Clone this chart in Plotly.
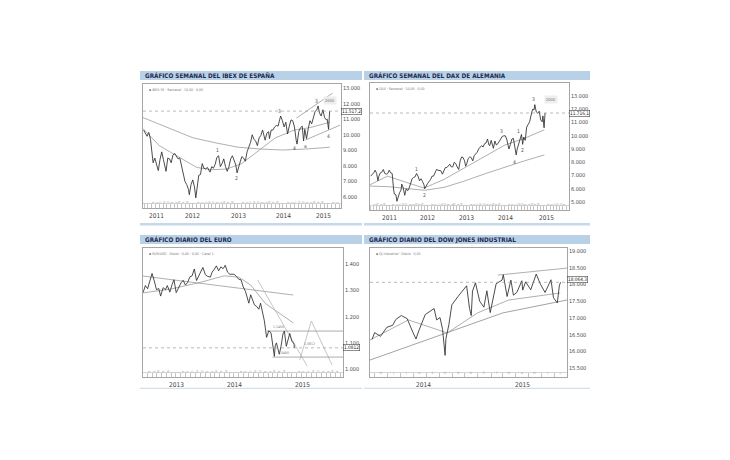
import datetime as dt
import plotly.graph_objects as go

# ---------------- DATA ----------------
# IBEX 35 weekly (approx. closes / swing points)
ibex_dates = ["2011-05-27","2011-06-10","2011-06-24","2011-07-08","2011-07-22","2011-08-05","2011-08-12","2011-08-26",
 "2011-09-09","2011-09-23","2011-10-07","2011-10-21","2011-11-04","2011-11-18","2011-11-25","2011-12-09","2011-12-23",
 "2012-01-06","2012-01-20","2012-02-03","2012-02-17","2012-03-02","2012-03-16","2012-03-30","2012-04-13","2012-04-27",
 "2012-05-11","2012-05-25","2012-06-01","2012-06-15","2012-06-29","2012-07-13","2012-07-24","2012-08-03","2012-08-17",
 "2012-08-31","2012-09-14","2012-09-28","2012-10-12","2012-10-26","2012-11-09","2012-11-16","2012-11-30","2012-12-14",
 "2012-12-28","2013-01-11","2013-01-25","2013-02-08","2013-02-22","2013-03-08","2013-03-22","2013-04-05","2013-04-19",
 "2013-05-03","2013-05-17","2013-05-31","2013-06-14","2013-06-24","2013-07-05","2013-07-19","2013-08-02","2013-08-16",
 "2013-08-30","2013-09-13","2013-09-27","2013-10-11","2013-10-25","2013-11-08","2013-11-22","2013-12-06","2013-12-20",
 "2014-01-03","2014-01-17","2014-01-31","2014-02-07","2014-02-21","2014-03-07","2014-03-14","2014-03-28","2014-04-11",
 "2014-04-25","2014-05-09","2014-05-23","2014-06-06","2014-06-13","2014-06-27","2014-07-11","2014-07-25","2014-08-08",
 "2014-08-22","2014-09-05","2014-09-19","2014-10-03","2014-10-17","2014-10-24","2014-11-07","2014-11-21","2014-12-05",
 "2014-12-12","2014-12-16","2014-12-26","2015-01-09","2015-01-23","2015-02-06","2015-02-20","2015-03-06","2015-03-20",
 "2015-04-03","2015-04-13","2015-04-24","2015-05-08","2015-05-22","2015-06-05","2015-06-19","2015-06-26","2015-07-07",
 "2015-07-16"]
ibex_close = [10300,10050,9900,10150,9700,8700,8200,8500,8100,7700,8400,8900,8400,7900,7650,8500,8450,
 8200,8700,8800,8650,8450,8500,8000,7350,7000,6800,6500,6150,6800,7100,6650,5950,6700,7400,
 7450,8150,7850,7800,7900,7750,7600,7950,7850,8100,8550,8650,7950,8150,8450,7950,7650,7950,
 8450,8650,8300,8050,7550,7800,8250,8600,8500,8300,8900,9200,9500,10000,9700,9600,9300,9800,
 9950,10300,9900,9650,10100,10200,9750,10300,10300,10500,10600,10550,11000,11200,10900,10500,10800,10050,
 10550,10950,10900,10500,9650,9400,10200,10450,10550,10050,9600,10350,9750,10400,10900,10700,11200,11500,
 11600,11850,11400,11200,11600,11100,10950,11000,10350,11517.2]
ibex_ma_slow_dates = ["2011-05-22","2011-12-01","2012-07-01","2013-01-01","2013-07-01","2014-01-01","2014-07-01","2015-01-01","2015-07-17"]
ibex_ma_slow = [11100,10500,9800,9480,9200,9080,9020,9080,9200]
ibex_ma_fast_dates = ["2011-05-22","2011-10-01","2012-03-01","2012-08-01","2012-12-01","2013-04-01","2013-08-01","2013-12-01","2014-05-01","2014-10-01","2015-02-01","2015-07-17"]
ibex_ma_fast = [10400,9300,8600,7900,7750,7800,8150,8900,9800,10300,10450,10800]
ibex_trend_up_dates = ["2014-10-20","2015-08-10"]
ibex_trend_up = [11070,12680]
ibex_trend_lo_dates = ["2014-12-31","2015-10-10"]
ibex_trend_lo = [9660,10620]
ibex_wave_dates = ["2013-01-20","2013-06-20","2014-06-01","2014-10-01","2014-12-31","2015-03-28","2015-07-05"]
ibex_wave_vals = [9000,7200,11550,9150,9300,12150,9900]
ibex_wave_text = ["1","2","3","4","a","3","4"]

# DAX weekly
dax_dates = ["2011-01-07","2011-01-21","2011-02-04","2011-02-18","2011-03-04","2011-03-16","2011-03-25","2011-04-08",
 "2011-04-22","2011-05-06","2011-05-20","2011-06-03","2011-06-17","2011-07-01","2011-07-15","2011-07-29","2011-08-05",
 "2011-08-12","2011-08-19","2011-09-02","2011-09-12","2011-09-23","2011-10-07","2011-10-21","2011-10-28","2011-11-11",
 "2011-11-25","2011-12-09","2011-12-23","2012-01-06","2012-01-20","2012-02-03","2012-02-17","2012-03-02","2012-03-16",
 "2012-03-30","2012-04-13","2012-04-27","2012-05-11","2012-05-25","2012-06-01","2012-06-15","2012-06-29","2012-07-13",
 "2012-07-27","2012-08-10","2012-08-24","2012-09-07","2012-09-21","2012-10-05","2012-10-19","2012-11-02","2012-11-16",
 "2012-11-30","2012-12-14","2012-12-28","2013-01-11","2013-01-25","2013-02-08","2013-02-22","2013-03-08","2013-03-22",
 "2013-04-05","2013-04-19","2013-05-03","2013-05-17","2013-05-31","2013-06-14","2013-06-24","2013-07-05","2013-07-19",
 "2013-08-02","2013-08-16","2013-08-30","2013-09-13","2013-09-27","2013-10-11","2013-10-25","2013-11-08","2013-11-22",
 "2013-12-06","2013-12-20","2014-01-03","2014-01-17","2014-01-31","2014-02-07","2014-02-21","2014-03-07","2014-03-14",
 "2014-03-28","2014-04-11","2014-04-25","2014-05-09","2014-05-23","2014-06-06","2014-06-20","2014-07-04","2014-07-18",
 "2014-08-01","2014-08-08","2014-08-22","2014-09-05","2014-09-19","2014-10-03","2014-10-16","2014-10-24","2014-11-07",
 "2014-11-21","2014-12-05","2014-12-16","2014-12-26","2015-01-09","2015-01-23","2015-02-06","2015-02-20","2015-03-06",
 "2015-03-20","2015-04-03","2015-04-10","2015-04-24","2015-05-08","2015-05-22","2015-06-05","2015-06-19","2015-06-26",
 "2015-07-07","2015-07-16"]
dax_close = [6950,7050,7200,7400,7150,6600,6950,7200,7250,7450,7150,7100,7150,7400,7200,7150,6250,
 5900,5600,5550,5050,5450,5700,5900,6350,6050,5500,6000,5850,6050,6400,6750,6850,6900,7150,
 6950,6600,6750,6550,6300,6000,6250,6400,6550,6700,6950,6950,7200,7450,7400,7400,7350,7100,
 7400,7600,7600,7700,7850,7650,7650,8000,7900,7650,7450,8100,8400,8350,8100,7700,7900,8300,
 8400,8350,8100,8500,8650,8750,9000,9100,9250,9150,9400,9450,9750,9300,9250,9650,9350,9050,
 9600,9300,9400,9600,9750,9950,9990,10000,9750,9200,9000,9350,9750,9800,9200,8550,8950,9300,
 9700,10100,9350,9900,9650,10650,10850,11050,11550,12000,11950,12350,11800,11700,11850,11200,11050,11500,
 10600,11716.1]
dax_ma_slow_dates = ["2011-01-01","2011-07-01","2012-01-01","2012-06-01","2012-12-01","2013-06-01","2014-01-01","2014-07-01","2015-01-01","2015-07-10"]
dax_ma_slow = [6200,6150,6000,5880,6100,6550,7150,7650,8100,8550]
dax_ma_fast_dates = ["2011-01-01","2011-06-15","2011-12-01","2012-05-25","2012-12-01","2013-06-01","2014-01-01","2014-07-01","2015-01-01","2015-07-10"]
dax_ma_fast = [6300,6950,6500,6050,6700,7500,8500,9300,9800,10450]
dax_wave_dates = ["2012-03-20","2012-06-01","2014-06-01","2014-10-01","2014-11-10","2014-12-10","2015-03-25"]
dax_wave_vals = [7500,5550,10360,8020,10360,8920,12770]
dax_wave_text = ["1","2","3","4","1","2","3"]

# EUR/USD daily
euro_dates = ["2012-12-07","2012-12-21","2013-01-04","2013-01-18","2013-02-01","2013-02-15","2013-03-01","2013-03-15",
 "2013-03-27","2013-04-12","2013-04-26","2013-05-08","2013-05-24","2013-06-07","2013-06-19","2013-07-03","2013-07-19",
 "2013-08-02","2013-08-16","2013-08-30","2013-09-13","2013-09-27","2013-10-11","2013-10-25","2013-11-08","2013-11-22",
 "2013-12-06","2013-12-18","2014-01-03","2014-01-17","2014-02-03","2014-02-14","2014-02-28","2014-03-13","2014-03-27",
 "2014-04-10","2014-04-24","2014-05-08","2014-05-22","2014-06-05","2014-06-20","2014-07-03","2014-07-18","2014-08-01",
 "2014-08-15","2014-08-29","2014-09-12","2014-09-26","2014-10-03","2014-10-15","2014-10-31","2014-11-07","2014-11-21",
 "2014-12-05","2014-12-16","2014-12-31","2015-01-09","2015-01-23","2015-02-06","2015-02-20","2015-03-06","2015-03-13",
 "2015-03-18","2015-03-26","2015-04-13","2015-04-24","2015-05-06","2015-05-15","2015-05-27","2015-06-05","2015-06-18",
 "2015-07-01","2015-07-08","2015-07-15","2015-07-17"]
euro_close = [1.292,1.318,1.306,1.331,1.364,1.336,1.302,1.307,1.278,1.310,1.302,1.318,1.293,1.322,1.340,1.291,1.314,
 1.328,1.338,1.320,1.330,1.351,1.355,1.381,1.337,1.357,1.370,1.387,1.359,1.353,1.350,1.369,1.380,1.393,1.374,
 1.389,1.382,1.395,1.369,1.361,1.361,1.361,1.352,1.342,1.340,1.313,1.296,1.268,1.251,1.283,1.252,1.245,1.239,
 1.228,1.251,1.210,1.184,1.121,1.146,1.138,1.084,1.049,1.088,1.100,1.057,1.087,1.134,1.145,1.087,1.112,1.136,
 1.106,1.103,1.095,1.0812]
euro_line_a_dates = ["2012-12-06","2015-07-10"]
euro_line_a = [1.354,1.282]
euro_ma_dates = ["2012-12-06","2013-06-01","2013-12-01","2014-05-01","2014-08-01","2014-10-15","2015-01-15","2015-07-10"]
euro_ma = [1.290,1.305,1.330,1.355,1.350,1.320,1.250,1.176]
euro_line_b_dates = ["2014-11-28","2015-10-05"]
euro_line_b = [1.339,1.012]
euro_proj_dates = ["2015-08-20","2015-11-01","2016-03-10"]
euro_proj = [1.035,1.183,1.016]
euro_levels = [1.1450,1.0460]
euro_level_start = ["2015-01-25","2015-03-01"]
euro_level_text = ["1,1450","1,0460"]

# Dow Jones daily
dow_dates = ["2014-04-25","2014-05-01","2014-05-15","2014-05-30","2014-06-13","2014-06-20","2014-07-03","2014-07-17",
 "2014-07-31","2014-08-07","2014-08-15","2014-08-29","2014-09-19","2014-09-25","2014-10-03","2014-10-09","2014-10-15",
 "2014-10-17","2014-10-24","2014-10-31","2014-11-14","2014-11-28","2014-12-05","2014-12-12","2014-12-16","2014-12-19",
 "2014-12-26","2015-01-05","2015-01-15","2015-01-22","2015-01-30","2015-02-13","2015-02-27","2015-03-02","2015-03-11",
 "2015-03-20","2015-03-26","2015-04-03","2015-04-15","2015-04-17","2015-04-24","2015-05-06","2015-05-19","2015-05-29",
 "2015-06-09","2015-06-23","2015-06-29","2015-07-08","2015-07-13","2015-07-16"]
dow_close = [16360,16560,16450,16720,16780,16950,17070,16980,16560,16370,16660,17100,17280,16940,17010,16660,15880,
 16380,16800,17390,17630,17830,17960,17280,17070,17800,18050,17500,17320,17810,17160,18020,18130,18290,17640,
 18130,17680,17760,18110,17830,18080,17840,18310,18010,17760,18140,17600,17450,17980,18064.3]
dow_ma_slow_dates = ["2014-04-20","2014-10-15","2015-03-01","2015-07-31"]
dow_ma_slow = [15740,16550,17150,17535]
dow_ma_fast_dates = ["2014-04-20","2014-07-20","2014-10-20","2014-12-31","2015-03-15","2015-07-15"]
dow_ma_fast = [16340,16940,16550,17150,17535,17745]
dow_channel_dates = ["2015-02-17","2015-07-31"]
dow_channel = [18280,18490]

month_initials = ["E","F","M","A","M","J","J","A","S","O","N","D"]

# ---------------- LAYOUT HELPERS ----------------
W, H = 730, 460
NARROW = "Liberation Sans Narrow, DejaVu Sans Condensed, Arial Narrow, sans-serif"
HEADER_FILL = "#b9d1e7"
HEADER_TEXT = "#1e2b4f"


def fx(p):
    return p / W


def fy(p):
    return 1 - p / H


def int_fmt(v):
    return f"{int(v):,}".replace(",", ".")


def eur_fmt(v):
    return f"{v:.3f}"


def val_fmt(v, euro=False):
    if euro:
        return f"{v:.4f}"
    s = f"{v:,.1f}"
    return s.replace(",", "X").replace(".", ",").replace("X", ".")


panels = [
    dict(n=1, box=(143, 84, 341, 208), xr=("2011-05-22", "2015-10-16"), yr=(5296, 13257),
         yt=list(range(6000, 13001, 1000)), fmt=int_fmt, head=(140, 71, 362, 80),
         title="GRÁFICO SEMANAL DEL IBEX DE ESPAÑA", last=ibex_close[-1], euro=False, boxshift=0,
         dates=ibex_dates, legend="IBEX 35 · Semanal · 10,00 · 0,00", lasty=ibex_dates[-1][:4]),
    dict(n=2, box=(370, 83, 569, 210), xr=("2010-12-31", "2016-02-28"), yr=(4393, 13982),
         yt=list(range(5000, 13001, 1000)), fmt=int_fmt, head=(364, 71, 590, 80),
         title="GRÁFICO SEMANAL DEL DAX DE ALEMANIA", last=dax_close[-1], euro=False, boxshift=0,
         dates=dax_dates, legend="DAX · Semanal · 10,00 · 0,00", lasty=dax_dates[-1][:4]),
    dict(n=3, box=(143, 248, 343, 377), xr=("2012-12-06", "2016-05-18"), yr=(0.9703, 1.4608),
         yt=[1.0, 1.1, 1.2, 1.3, 1.4], fmt=eur_fmt, head=(140, 235, 362, 244),
         title="GRÁFICO DIARIO DEL EURO", last=euro_close[-1], euro=True, boxshift=0,
         dates=euro_dates, legend="EUR/USD · Diario · 0,00 · 0,00 · Canal 1", lasty=euro_dates[-1][:4]),
    dict(n=4, box=(370, 248, 567, 377), xr=("2014-04-20", "2015-07-31"), yr=(15233, 19090),
         yt=list(range(15500, 19001, 500)), fmt=int_fmt, head=(364, 235, 590, 244),
         title="GRÁFICO DIARIO DEL DOW JONES INDUSTRIAL", last=dow_close[-1], euro=False, boxshift=3,
         dates=dow_dates, legend="DJ Industrial · Diario · 0,00", lasty=dow_dates[-1][:4]),
]

fig = go.Figure()
shapes, annotations = [], []
layout = {}


def axid(n, kind):
    return kind if n == 1 else f"{kind}{n}"


def ref(n, kind):
    return kind if n == 1 else f"{kind}{n}"


def add_line(n, x, y, color="#9a9a9a", width=0.8, dash="solid", mode="lines"):
    fig.add_trace(go.Scatter(x=x, y=y, mode=mode, line=dict(color=color, width=width, dash=dash),
                             xaxis=ref(n, "x"), yaxis=ref(n, "y"), hoverinfo="skip", showlegend=False))


for p in panels:
    n = p["n"]
    x0, y0, x1, y1 = p["box"]
    d0 = dt.date.fromisoformat(p["xr"][0])
    d1 = dt.date.fromisoformat(p["xr"][1])
    # month labels in the date strip
    mvals, mtext = [], []
    cur = dt.date(d0.year, d0.month, 15)
    while cur <= d1:
        if cur >= d0:
            mvals.append(cur.isoformat())
            mtext.append(month_initials[cur.month - 1])
        cur = dt.date(cur.year + (cur.month // 12), cur.month % 12 + 1, 15)
    layout[axid(n, "xaxis")] = dict(
        domain=[fx(x0), fx(x1)], range=list(p["xr"]), type="date", anchor=ref(n, "y"),
        showline=True, mirror=True, linecolor="#a6a6a6", linewidth=0.7, showgrid=False, zeroline=False,
        tickmode="array", tickvals=mvals, ticktext=mtext, ticklabelposition="inside", ticks="",
        tickfont=dict(size=3, color="#8a8a8a", family=NARROW),
        minor=dict(ticks="inside", ticklen=4, tickcolor="#c4c4c4", tickwidth=0.5, dtick="M1",
                   tick0="2000-01-01", showgrid=False),
    )
    layout[axid(n, "yaxis")] = dict(
        domain=[fy(y1), fy(y0)], range=list(p["yr"]), anchor=ref(n, "x"), side="right",
        showline=True, mirror=True, linecolor="#a6a6a6", linewidth=0.7, showgrid=False, zeroline=False,
        tickmode="array", tickvals=p["yt"], ticktext=[p["fmt"](v) for v in p["yt"]], ticks="",
        tickfont=dict(size=5.5, color="#4a4a4a", family=NARROW),
    )
    xd = (ref(n, "x") + " domain")
    yd = (ref(n, "y") + " domain")
    # strip top line
    shapes.append(dict(type="line", xref=xd, yref=yd, x0=0, x1=1, y0=4.5 / (y1 - y0), y1=4.5 / (y1 - y0),
                       line=dict(color="#b8b8b8", width=0.6)))
    # last price dotted line
    shapes.append(dict(type="line", xref=xd, yref=ref(n, "y"), x0=0, x1=1, y0=p["last"], y1=p["last"],
                       line=dict(color="#8a8a8a", width=0.6, dash="dot")))
    # value box
    annotations.append(dict(xref=xd, yref=ref(n, "y"), x=1, y=p["last"], xanchor="left", xshift=0,
                            yshift=p["boxshift"],
                            text=val_fmt(p["last"], p["euro"]), showarrow=False,
                            font=dict(size=4.8, color="#222", family=NARROW), bgcolor="white",
                            bordercolor="#444", borderwidth=0.6, borderpad=0.3))
    # legend text
    annotations.append(dict(xref=xd, yref=yd, x=0.02, y=0.985, xanchor="left", yanchor="top",
                            text="▪ " + p["legend"], showarrow=False,
                            font=dict(size=3.5, color="#777", family=NARROW)))
    # year labels centred on the visible part of each year
    last_year = int(p["lasty"])
    for yr in range(d0.year, last_year + 1):
        s = max(d0, dt.date(yr, 1, 1))
        e = d1 if yr == last_year else min(d1, dt.date(yr, 12, 31))
        if (e - s).days < 60:
            continue
        mid = s + (e - s) / 2
        annotations.append(dict(xref=ref(n, "x"), yref="paper", x=mid.isoformat(),
                                y=fy(y1 + 7.5), yanchor="middle", text=str(yr), showarrow=False,
                                font=dict(size=6.5, color="#444", family=NARROW)))
    # header bar
    hx0, hy0, hx1, hy1 = p["head"]
    shapes.append(dict(type="rect", xref="paper", yref="paper", x0=fx(hx0), x1=fx(hx1), y0=fy(hy1), y1=fy(hy0),
                       fillcolor=HEADER_FILL, line=dict(width=0), layer="below"))
    annotations.append(dict(xref="paper", yref="paper", x=fx(hx0 + 3), y=fy((hy0 + hy1) / 2 + 0.3),
                            xanchor="left", yanchor="middle", text="<b>" + p["title"] + "</b>",
                            showarrow=False, font=dict(size=6.3, color=HEADER_TEXT, family=NARROW)))

# separators under each row
for (sx0, sx1) in [(140, 362), (364, 590)]:
    shapes.append(dict(type="rect", xref="paper", yref="paper", x0=fx(sx0), x1=fx(sx1), y0=fy(225.5), y1=fy(223),
                       fillcolor="#c6d9ea", line=dict(width=0), layer="below"))
    shapes.append(dict(type="rect", xref="paper", yref="paper", x0=fx(sx0), x1=fx(sx1), y0=fy(389), y1=fy(387.8),
                       fillcolor="#d3dfe9", line=dict(width=0), layer="below"))

# ---- Panel 1: IBEX ----
add_line(1, ibex_ma_slow_dates, ibex_ma_slow)
add_line(1, ibex_ma_fast_dates, ibex_ma_fast)
add_line(1, ibex_trend_up_dates, ibex_trend_up, color="#8c8c8c", width=0.7)
add_line(1, ibex_trend_lo_dates, ibex_trend_lo, color="#8c8c8c", width=0.7)
add_line(1, ibex_dates, ibex_close, color="#2d2d2d", width=0.85)
for d, v, t in zip(ibex_wave_dates, ibex_wave_vals, ibex_wave_text):
    annotations.append(dict(xref="x", yref="y", x=d, y=v, text=t, showarrow=False,
                            font=dict(size=5, color="#555", family=NARROW)))
annotations.append(dict(xref="x", yref="y", x="2015-07-15", y=12230, text="2000", showarrow=False,
                        font=dict(size=4, color="#777", family=NARROW), bgcolor="#eeeeee"))

# ---- Panel 2: DAX ----
add_line(2, dax_ma_slow_dates, dax_ma_slow)
add_line(2, dax_ma_fast_dates, dax_ma_fast)
add_line(2, dax_dates, dax_close, color="#2d2d2d", width=0.85)
for d, v, t in zip(dax_wave_dates, dax_wave_vals, dax_wave_text):
    annotations.append(dict(xref="x2", yref="y2", x=d, y=v, text=t, showarrow=False,
                            font=dict(size=5, color="#555", family=NARROW)))
annotations.append(dict(xref="x2", yref="y2", x="2015-09-12", y=12700, text="2000", showarrow=False,
                        font=dict(size=4, color="#777", family=NARROW), bgcolor="#eeeeee"))

# ---- Panel 3: EURO ----
add_line(3, euro_line_a_dates, euro_line_a, color="#9a9a9a", width=0.8)
add_line(3, euro_ma_dates, euro_ma, color="#9a9a9a", width=0.8)
add_line(3, euro_line_b_dates, euro_line_b, color="#b8b8b8", width=0.8)
add_line(3, euro_proj_dates, euro_proj, color="#b8b8b8", width=0.8)
for lv, ls, lt in zip(euro_levels, euro_level_start, euro_level_text):
    add_line(3, [ls, panels[2]["xr"][1]], [lv, lv], color="#8a8a8a", width=0.7)
    annotations.append(dict(xref="x3", yref="y3", x=ls, y=lv, xanchor="left", yanchor="bottom", xshift=4,
                            text=lt, showarrow=False, font=dict(size=3.5, color="#777", family=NARROW)))
annotations.append(dict(xref="x3", yref="y3", x="2015-09-01", y=euro_close[-1], xanchor="left",
                        yanchor="bottom", text="1,0812", showarrow=False,
                        font=dict(size=3.5, color="#777", family=NARROW)))
add_line(3, euro_dates, euro_close, color="#2d2d2d", width=0.85)

# ---- Panel 4: DOW ----
add_line(4, dow_ma_slow_dates, dow_ma_slow, color="#8c8c8c", width=0.8)
add_line(4, dow_ma_fast_dates, dow_ma_fast, color="#9a9a9a", width=0.8)
add_line(4, dow_channel_dates, dow_channel, color="#8c8c8c", width=0.7)
add_line(4, dow_dates, dow_close, color="#2d2d2d", width=0.85)

fig.update_layout(
    width=W, height=H, margin=dict(l=0, r=0, t=0, b=0),
    paper_bgcolor="white", plot_bgcolor="white", showlegend=False,
    shapes=shapes, annotations=annotations, **layout,
)

fig.write_html("out.html")
